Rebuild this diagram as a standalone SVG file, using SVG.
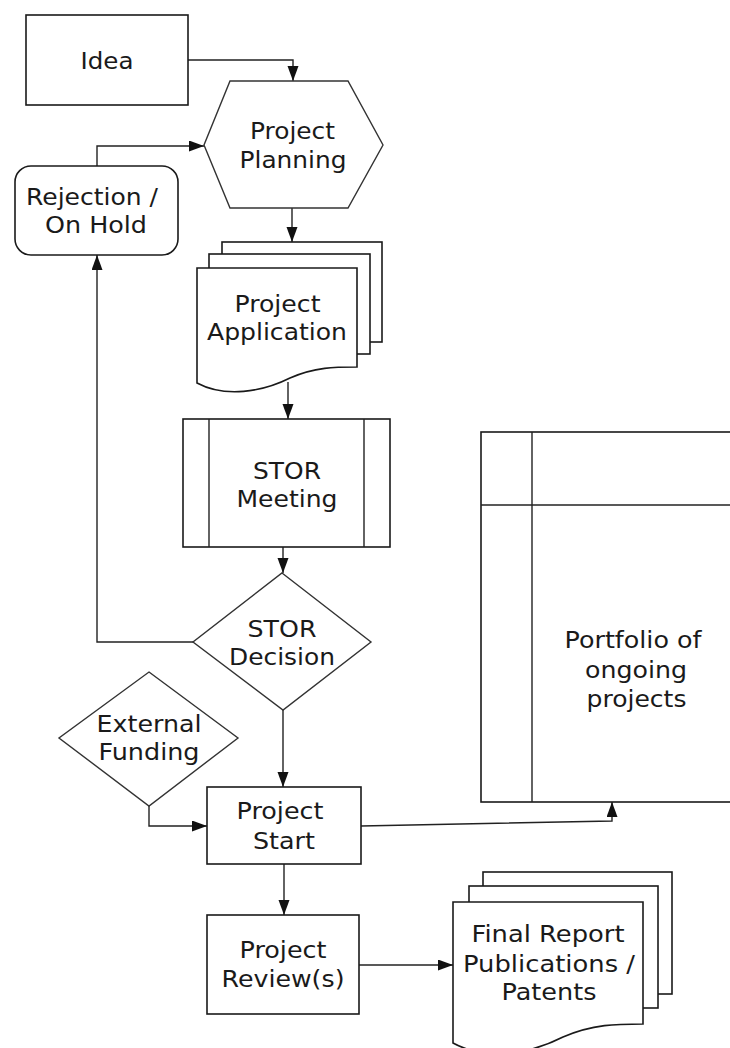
<svg xmlns="http://www.w3.org/2000/svg" width="730" height="1048" viewBox="0 0 730 1048">
  <style>
    .box { fill: #ffffff; stroke: #1a1a1a; stroke-width: 1.6; }
    .thin { fill: #ffffff; stroke: #333333; stroke-width: 1.4; }
    .wire { fill: none; stroke: #222222; stroke-width: 1.4; marker-end: url(#arrow); }
    .plain { fill: none; stroke: #222222; stroke-width: 1.4; }
    text { font-family: "DejaVu Sans", "Liberation Sans", sans-serif; font-size: 23px; fill: #1a1a1a; text-anchor: middle; }
  </style>
  <defs>
    <!-- filled triangular arrowhead shared by every connector -->
    <marker id="arrow" markerUnits="userSpaceOnUse" markerWidth="16" markerHeight="12" refX="15" refY="5.5" orient="auto">
      <path d="M0,0 L15,5.5 L0,11 Z" fill="#111111"/>
    </marker>
  </defs>

  <rect width="730" height="1048" fill="#ffffff"/>

  <!-- connectors -->
  <g id="connectors">
    <path class="wire" d="M188,60 H293 V81"/>
    <path class="wire" d="M97,166 V146 H204"/>
    <path class="wire" d="M292,208 V242"/>
    <path class="wire" d="M288,382 V419"/>
    <path class="wire" d="M283,547 V573"/>
    <path class="wire" d="M193,642 H97 V255"/>
    <path class="wire" d="M283,710 V787"/>
    <path class="wire" d="M149,806 V826 H207"/>
    <path class="wire" d="M361,826 L612,821 V802"/>
    <path class="wire" d="M284,864 V915"/>
    <path class="wire" d="M359,965 H453"/>
  </g>

  <g id="idea">
    <rect class="box" x="26" y="15" width="162" height="90"/>
    <text x="107" y="69" textLength="53" lengthAdjust="spacingAndGlyphs">Idea</text>
  </g>

  <g id="project-planning">
    <polygon class="thin" points="230,81 348,81 383,145 348,208 230,208 204,145"/>
    <text x="292.5" y="139" textLength="85" lengthAdjust="spacingAndGlyphs">Project</text>
    <text x="293" y="168" textLength="107" lengthAdjust="spacingAndGlyphs">Planning</text>
  </g>

  <g id="rejection">
    <rect class="box" x="15" y="166" width="163" height="89" rx="16" ry="16"/>
    <text x="92" y="205" textLength="132" lengthAdjust="spacingAndGlyphs">Rejection /</text>
    <text x="96" y="233" textLength="102" lengthAdjust="spacingAndGlyphs">On Hold</text>
  </g>

  <g id="project-application">
    <rect class="box" x="222" y="242" width="160" height="100"/>
    <rect class="box" x="209" y="254" width="161" height="100"/>
    <path class="box" d="M197,268 H357 V367 C335,367 315,367 290,378 C262,392 225,398 197,383 Z"/>
    <text x="277.5" y="312" textLength="86" lengthAdjust="spacingAndGlyphs">Project</text>
    <text x="277" y="340" textLength="140" lengthAdjust="spacingAndGlyphs">Application</text>
  </g>

  <g id="stor-meeting">
    <rect class="box" x="183" y="419" width="207" height="128"/>
    <line class="plain" x1="209" y1="419" x2="209" y2="547"/>
    <line class="plain" x1="364" y1="419" x2="364" y2="547"/>
    <text x="287" y="479" textLength="68" lengthAdjust="spacingAndGlyphs">STOR</text>
    <text x="287" y="507" textLength="101" lengthAdjust="spacingAndGlyphs">Meeting</text>
  </g>

  <g id="stor-decision">
    <polygon class="thin" points="282,573 371,642 283,710 193,642"/>
    <text x="282" y="637" textLength="69" lengthAdjust="spacingAndGlyphs">STOR</text>
    <text x="282" y="665" textLength="106" lengthAdjust="spacingAndGlyphs">Decision</text>
  </g>

  <g id="portfolio">
    <rect class="box" x="481" y="432" width="270" height="370"/>
    <line class="plain" x1="532" y1="432" x2="532" y2="802"/>
    <line class="plain" x1="481" y1="505" x2="740" y2="505"/>
    <text x="633" y="648" textLength="137" lengthAdjust="spacingAndGlyphs">Portfolio of</text>
    <text x="636" y="678" textLength="102" lengthAdjust="spacingAndGlyphs">ongoing</text>
    <text x="636.5" y="707" textLength="100" lengthAdjust="spacingAndGlyphs">projects</text>
  </g>

  <g id="external-funding">
    <polygon class="thin" points="149,672 238,738 149,806 59,738"/>
    <text x="149" y="732" textLength="105" lengthAdjust="spacingAndGlyphs">External</text>
    <text x="149" y="760" textLength="101" lengthAdjust="spacingAndGlyphs">Funding</text>
  </g>

  <g id="project-start">
    <rect class="box" x="207" y="787" width="154" height="77"/>
    <text x="280" y="819" textLength="87" lengthAdjust="spacingAndGlyphs">Project</text>
    <text x="284" y="849" textLength="62" lengthAdjust="spacingAndGlyphs">Start</text>
  </g>

  <g id="project-review">
    <rect class="box" x="207" y="915" width="152" height="99"/>
    <text x="283" y="958" textLength="87" lengthAdjust="spacingAndGlyphs">Project</text>
    <text x="283" y="987" textLength="123" lengthAdjust="spacingAndGlyphs">Review(s)</text>
  </g>

  <g id="final-report">
    <rect class="box" x="483" y="872" width="189" height="122"/>
    <rect class="box" x="469" y="886" width="189" height="122"/>
    <path class="box" d="M453,902 H643 V1024 C617,1024 593,1024 563,1037 C530,1054 486,1061 453,1043 Z"/>
    <text x="548" y="942" textLength="153" lengthAdjust="spacingAndGlyphs">Final Report</text>
    <text x="549" y="972" textLength="172" lengthAdjust="spacingAndGlyphs">Publications /</text>
    <text x="549" y="1000" textLength="95" lengthAdjust="spacingAndGlyphs">Patents</text>
  </g>
</svg>
